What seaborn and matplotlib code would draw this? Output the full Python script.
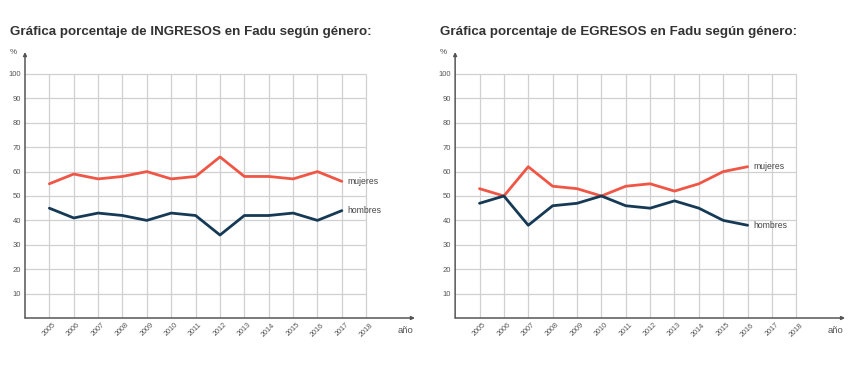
import pandas as pd
import matplotlib.pyplot as plt
import seaborn as sns

# datos
anios_ingresos = [2005, 2006, 2007, 2008, 2009, 2010, 2011, 2012, 2013, 2014, 2015, 2016, 2017]
mujeres_ingresos = [55, 59, 57, 58, 60, 57, 58, 66, 58, 58, 57, 60, 56]
hombres_ingresos = [45, 41, 43, 42, 40, 43, 42, 34, 42, 42, 43, 40, 44]

anios_egresos = [2005, 2006, 2007, 2008, 2009, 2010, 2011, 2012, 2013, 2014, 2015, 2016]
mujeres_egresos = [53, 50, 62, 54, 53, 50, 54, 55, 52, 55, 60, 62]
hombres_egresos = [47, 50, 38, 46, 47, 50, 46, 45, 48, 45, 40, 38]

anios_eje = [2005, 2006, 2007, 2008, 2009, 2010, 2011, 2012, 2013, 2014, 2015, 2016, 2017, 2018]
valores_y = [10, 20, 30, 40, 50, 60, 70, 80, 90, 100]

titulos = ['Gráfica porcentaje de INGRESOS en Fadu según género:',
           'Gráfica porcentaje de EGRESOS en Fadu según género:']

colores = {'mujeres': '#ef5645', 'hombres': '#163a56'}

sns.set_style('white')
plt.rcParams['font.family'] = ['Liberation Sans', 'DejaVu Sans']

gris = '#555555'


def armar_df(anios, mujeres, hombres):
    df_m = pd.DataFrame({'año': anios, 'porcentaje': mujeres, 'género': 'mujeres'})
    df_h = pd.DataFrame({'año': anios, 'porcentaje': hombres, 'género': 'hombres'})
    return pd.concat([df_m, df_h], ignore_index=True)


datos = [armar_df(anios_ingresos, mujeres_ingresos, hombres_ingresos),
         armar_df(anios_egresos, mujeres_egresos, hombres_egresos)]

fig = plt.figure(figsize=(8.62, 3.67), dpi=100)
posiciones = [[0.029, 0.1335, 0.4524, 0.7248], [0.528, 0.1335, 0.4524, 0.7248]]
x_titulos = [0.0116, 0.5105]

for i in range(2):
    ax = fig.add_axes(posiciones[i])
    df = datos[i]

    # grilla propia (solo hasta 2018 y 100)
    ax.hlines(valores_y, 2004, 2018, color='#d0d0d0', lw=0.9, zorder=0)
    ax.vlines(anios_eje, 0, 100, color='#d0d0d0', lw=0.9, zorder=0)

    sns.lineplot(data=df, x='año', y='porcentaje', hue='género', palette=colores,
                 linewidth=2.0, legend=False, ax=ax, zorder=3)

    # etiquetas al final de cada linea
    for genero in ['mujeres', 'hombres']:
        sub = df[df['género'] == genero]
        ult = sub.iloc[-1]
        ax.text(ult['año'] + 0.22, ult['porcentaje'], genero, fontsize=6.2,
                color='#444444', va='center', ha='left')

    ax.set_xlim(2004, 2020)
    ax.set_ylim(0, 109)
    ax.set_xticks(anios_eje)
    ax.set_xticklabels([str(a) for a in anios_eje], rotation=45, ha='center',
                       fontsize=5.2, color=gris)
    ax.set_yticks(valores_y)
    ax.set_yticklabels([str(v) for v in valores_y], fontsize=5.5, color=gris)
    ax.tick_params(axis='both', length=0)
    ax.tick_params(axis='y', pad=3)
    ax.tick_params(axis='x', pad=2.5)
    ax.set_xlabel('')
    ax.set_ylabel('')
    for s in ax.spines.values():
        s.set_visible(False)

    # ejes con flecha
    ax.annotate('', xy=(1.0, 0), xytext=(0, 0), xycoords='axes fraction',
                arrowprops=dict(arrowstyle='-|>', color=gris, lw=1.1,
                                mutation_scale=5, shrinkA=0, shrinkB=0))
    ax.annotate('', xy=(0, 1.0), xytext=(0, 0), xycoords='axes fraction',
                arrowprops=dict(arrowstyle='-|>', color=gris, lw=1.1,
                                mutation_scale=5, shrinkA=0, shrinkB=0))
    ax.text(0.975, -0.03, 'año', transform=ax.transAxes, fontsize=6.8,
            color=gris, ha='center', va='top')
    ax.text(-0.02, 1.0, '%', transform=ax.transAxes, fontsize=5.8,
            color=gris, ha='right', va='center')

    fig.text(x_titulos[i], 0.913, titulos[i], fontsize=9.6, fontweight='bold',
             color='#333333', ha='left', va='center')

fig.savefig('out.png', dpi=100)
